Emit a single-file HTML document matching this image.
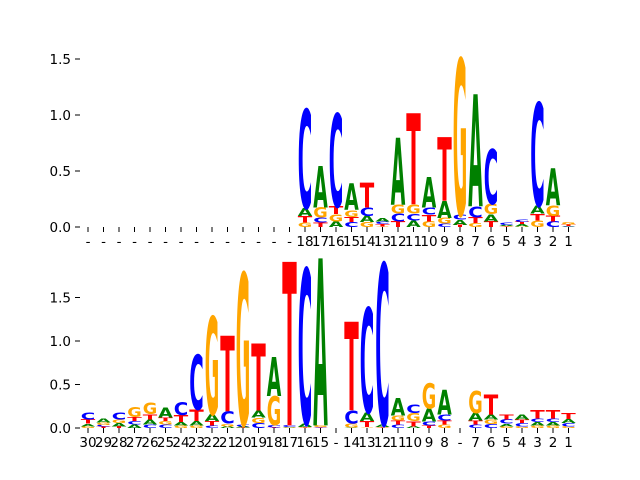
<!DOCTYPE html>
<html><head><meta charset="utf-8"><style>
html,body{margin:0;padding:0;background:#fff;}
svg{display:block;}
text{font-family:"DejaVu Sans","Liberation Sans",sans-serif;}
</style></head><body>
<svg id="chart" width="640" height="480" viewBox="0 0 640 480" xmlns="http://www.w3.org/2000/svg"></svg>
<script>
const topLabels = ["-","-","-","-","-","-","-","-","-","-","-","-","-","-","18","17","16","15","14","13","12","11","10","9","8","7","6","5","4","3","2","1"];
const topA = [0,0,0,0,0,0,0,0,0,0,0,0,0,0,0.07,0.37,0.05,0.24,0.055,0.03,0.6,0.06,0.27,0.15,0.045,1.0,0.065,0.01,0.02,0.07,0.33,0.005];
const topC = [0,0,0,0,0,0,0,0,0,0,0,0,0,0,0.88,0.045,0.83,0.045,0.075,0.025,0.07,0.06,0.065,0.03,0.045,0.1,0.49,0.025,0.025,0.92,0.05,0.003];
const topG = [0,0,0,0,0,0,0,0,0,0,0,0,0,0,0.04,0.09,0.065,0.06,0.045,0.005,0.08,0.08,0.05,0.05,1.39,0.035,0.09,0.005,0.005,0.06,0.09,0.02];
const topT = [0,0,0,0,0,0,0,0,0,0,0,0,0,0,0.06,0.04,0.07,0.045,0.22,0.02,0.05,0.81,0.06,0.57,0.02,0.05,0.05,0.005,0.02,0.06,0.05,0.015];
const topYTicks = [0,0.5,1.0,1.5];

const botLabels = ["30","29","28","27","26","25","24","23","22","21","20","19","18","17","16","15","-","14","13","12","11","10","9","8","-","7","6","5","4","3","2","1"];
const botA = [0.03,0.045,0.04,0.04,0.06,0.11,0.04,0.05,0.08,0.02,0.015,0.08,0.45,0.005,0.04,1.92,0,0.005,0.1,0.03,0.2,0.02,0.15,0.28,0,0.09,0.06,0.03,0.06,0.04,0.04,0.045];
const botC = [0.08,0.02,0.085,0.04,0.04,0.04,0.15,0.63,0.03,0.14,0.02,0.06,0.03,0.02,1.78,0.005,0,0.15,1.2,1.85,0.04,0.1,0.045,0.07,0,0.04,0.045,0.05,0.04,0.04,0.04,0.04];
const botG = [0.02,0.03,0.04,0.11,0.13,0.04,0.03,0.03,1.12,0.03,1.74,0.06,0.33,0.005,0.005,0.02,0,0.045,0.01,0.005,0.06,0.09,0.29,0.04,0,0.25,0.05,0.02,0.02,0.03,0.03,0.02];
const botT = [0.05,0.015,0.02,0.045,0.06,0.04,0.08,0.13,0.05,0.87,0.005,0.77,0.005,1.88,0.005,0.005,0,1.02,0.07,0.005,0.045,0.06,0.03,0.045,0,0.045,0.23,0.06,0.04,0.1,0.1,0.07];
const botYTicks = [0,0.5,1.0,1.5];

const NS = "http://www.w3.org/2000/svg";
const svg = document.getElementById("chart");
const COLORS = {A:"#008000",C:"#0000ff",G:"#ffa500",T:"#ff0000"};
function mk(tag, attrs, parent){const e=document.createElementNS(NS,tag);for(const k in attrs)e.setAttribute(k,attrs[k]);parent.appendChild(e);return e;}

function drawPanel(name, labels, A, C, G, T, yticks, base, scale){
  const g = mk("g",{},svg);
  
  
  const x0 = 88, dx = 15.5, w = 14.5;
  const xs = i => x0 + i*dx;
  const ys = v => base - v*scale;
  yticks.forEach(v=>{
    const y = ys(v);
    const t = mk("line",{x1:75,x2:80,y1:y,y2:y,stroke:"#000","stroke-width":1},g);
    
    
    const l = mk("text",{x:71,y:y+5,"font-size":13.5,"text-anchor":"end",fill:"#000"},g);
    l.textContent = v.toFixed(1);
    
    
  });
  labels.forEach((lab,i)=>{
    const x = xs(i);
    const t = mk("line",{x1:x,x2:x,y1:base,y2:base+5,stroke:"#000","stroke-width":1},g);
    
    
    const l = mk("text",{x:x,y:base+19,"font-size":13.5,"text-anchor":"middle",fill:"#000"},g);
    l.textContent = lab;
    
    
    const stack = [["A",A[i]],["C",C[i]],["G",G[i]],["T",T[i]]].filter(s=>s[1]>0).sort((a,b)=>a[1]-b[1]);
    let cum = 0;
    stack.forEach(([ch,v])=>{
      const yb = ys(cum), h = v*scale;
      cum += v;
      const grp = mk("g",{transform:`translate(${x-w/2},${yb}) scale(${w/100},${h/72.9})`},g);
      
      
      const tx = mk("text",{x:0,y:0,"font-size":100,"font-weight":"bold",fill:COLORS[ch],textLength:100,lengthAdjust:"spacingAndGlyphs"},grp);
      tx.textContent = ch;
    });
  });
}
drawPanel("top-logo-panel", topLabels, topA, topC, topG, topT, topYTicks, 227, 112);
drawPanel("bottom-logo-panel", botLabels, botA, botC, botG, botT, botYTicks, 428, 87);
</script>
</body></html>
